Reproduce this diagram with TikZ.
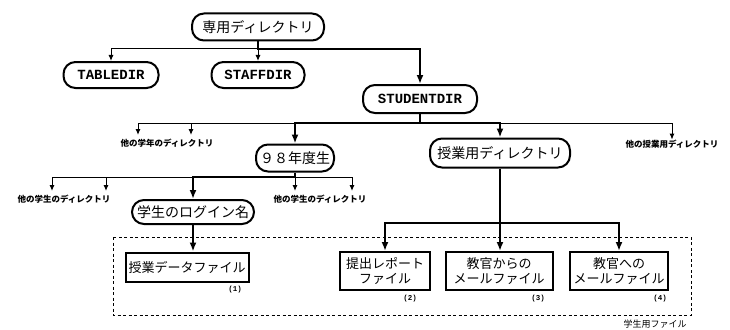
\documentclass[tikz,border=0pt]{standalone}
\usepackage{fontspec}
\newfontfamily\jp{Noto Sans CJK JP}
\newfontfamily\mono{Liberation Mono}
\usetikzlibrary{arrows.meta}
\begin{document}
\begin{tikzpicture}[x=1pt,y=-1pt,
  dirbox/.style={draw,line width=2pt,rounded corners=12pt,inner sep=0pt,font=\jp\fontsize{14}{14}\selectfont},
  monobox/.style={draw,line width=2pt,rounded corners=12pt,inner sep=0pt,font=\mono\bfseries\fontsize{14}{14}\selectfont},
  filebox/.style={draw,line width=2pt,inner sep=0pt,align=center,font=\jp\fontsize{13}{15}\selectfont},
  small/.style={font=\jp\bfseries\fontsize{8.5}{9}\selectfont,inner sep=0pt},
  numlab/.style={font=\mono\bfseries\fontsize{7.5}{7.5}\selectfont,inner sep=0pt},
  thinarrow/.style={line width=1pt,-{Latex[length=6pt,width=5pt]}},
  thickarrow/.style={line width=2.4pt,-{Latex[length=9pt,width=7pt]}},
  thickline/.style={line width=2.4pt},
]
\useasboundingbox (0,0) rectangle (730,329);

% nodes
\node[dirbox,minimum width=132pt,minimum height=27pt] (top) at (258,27) {専用ディレクトリ};
\node[monobox,minimum width=95pt,minimum height=26pt] (tabledir) at (111,75) {TABLEDIR};
\node[monobox,minimum width=93pt,minimum height=26pt] (staffdir) at (258,75) {STAFFDIR};
\node[monobox,minimum width=114pt,minimum height=28pt] (studentdir) at (420,99) {STUDENTDIR};

\node[small] (oth1) at (167,143) {他の学年のディレクトリ};
\node[small] (oth3) at (672,144) {他の授業用ディレクトリ};
\node[dirbox,minimum width=78pt,minimum height=27pt] (y98) at (295,158) {９８年度生};
\node[dirbox,minimum width=140pt,minimum height=29pt] (jugyo) at (500,153) {授業用ディレクトリ};

\node[small] (oth2l) at (64,199) {他の学生のディレクトリ};
\node[small] (oth2r) at (320,199) {他の学生のディレクトリ};
\node[dirbox,minimum width=122pt,minimum height=24pt] (login) at (193,212) {学生のログイン名};

\node[filebox,minimum width=123pt,minimum height=29pt] (file1) at (187,267) {授業データファイル};
\node[filebox,minimum width=90pt,minimum height=38pt] (file2) at (385,271) {提出レポート\\ファイル};
\node[filebox,minimum width=107pt,minimum height=38pt] (file3) at (499,271) {教官からの\\メールファイル};
\node[filebox,minimum width=98pt,minimum height=38pt] (file4) at (619,271) {教官への\\メールファイル};

\node[numlab] (n1) at (235,290) {(1)};
\node[numlab] (n2) at (410,299) {(2)};
\node[numlab] (n3) at (538,299) {(3)};
\node[numlab] (n4) at (660,299) {(4)};

\draw[line width=1pt,dash pattern=on 3pt off 2.5pt] (113,237) rectangle (691,315);
\node[font=\jp\fontsize{9}{9}\selectfont,inner sep=0pt] (stufile) at (655,324) {学生用ファイル};

% helper coordinates
\coordinate (h1) at (0,49);
\coordinate (h2) at (0,123);
\coordinate (h3) at (0,177);
\coordinate (h4) at (0,223);
\coordinate (a1) at (138,135);
\coordinate (a2) at (191,135);
\coordinate (b1) at (52,191);
\coordinate (b2) at (106,191);
\coordinate (b3) at (295,191);
\coordinate (b4) at (352,191);

% level 1
\draw[thinarrow] (top.south|-h1) -| (tabledir.north);
\draw[thinarrow] (top.south|-h1) -- (staffdir.north);
\draw[thickarrow] (top.south) -- (top.south|-h1) -| (studentdir.north);

% level 2
\draw[thickline] (studentdir.south) -- (studentdir.south|-h2);
\draw[thickarrow] (studentdir.south|-h2) -| (y98.north);
\draw[thickarrow] (studentdir.south|-h2) -| (jugyo.north);
\draw[thinarrow] (y98.north|-h2) -| (a1);
\draw[thinarrow] (a2|-h2) -- (a2);
\draw[thinarrow] (jugyo.north|-h2) -| (oth3.north);

% level 3
\draw[thickline] (y98.south) -- (y98.south|-h3);
\draw[thickarrow] (y98.south|-h3) -| (login.north);
\draw[thinarrow] (login.north|-h3) -| (b1);
\draw[thinarrow] (b2|-h3) -- (b2);
\draw[thinarrow] (y98.south|-h3) -- (b3);
\draw[thinarrow] (y98.south|-h3) -| (b4);

% level 4
\draw[thickarrow] (login.south) -- (login.south|-file1.north);
\draw[thickline] (jugyo.south) -- (jugyo.south|-h4);
\draw[thickarrow] (jugyo.south|-h4) -| (file2.north);
\draw[thickarrow] (jugyo.south|-h4) -- (jugyo.south|-file3.north);
\draw[thickarrow] (jugyo.south|-h4) -| (file4.north);
\end{tikzpicture}
\end{document}
